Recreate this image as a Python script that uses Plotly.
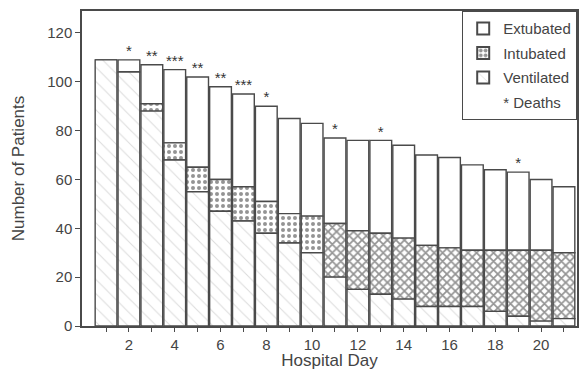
import plotly.graph_objects as go

days = list(range(1, 22))
ventilated = [109, 104, 88, 68, 55, 47, 43, 38, 34, 30, 20, 15, 13, 11, 8, 8, 8, 6, 4, 2, 3]
intubated_top = [109, 104, 91, 75, 65, 60, 57, 51, 46, 45, 42, 39, 38, 36, 33, 32, 31, 31, 31, 31, 30]
total = [109, 109, 107, 105, 102, 98, 95, 90, 85, 83, 77, 76, 76, 74, 70, 69, 66, 64, 63, 60, 57]
deaths = [0, 1, 2, 3, 2, 2, 3, 1, 0, 0, 1, 0, 1, 0, 0, 0, 0, 0, 1, 0, 0]
x_tick_labels = ["", "2", "", "4", "", "6", "", "8", "", "10", "", "12", "", "14", "", "16", "", "18", "", "20", ""]
y_ticks = [0, 20, 40, 60, 80, 100, 120]

intubated = [t - v for t, v in zip(intubated_top, ventilated)]
extubated = [t - i for t, i in zip(total, intubated_top)]
death_text = ["*" * n for n in deaths]

FONT = "Liberation Sans, Arial, sans-serif"
EDGE = "#4a4a4a"

intub_shapes = ["x" if d > 10 else "." for d in days]
intub_solid = [0.5 if d > 10 else 0.35 for d in days]

fig = go.Figure()
fig.add_trace(go.Bar(
    x=days, y=extubated, base=intubated_top, name="Extubated", legendgroup="a",
    marker=dict(color="white", line=dict(color=EDGE, width=1.4)),
))
fig.add_trace(go.Bar(
    x=days, y=intubated, base=ventilated, name="Intubated", legendgroup="b",
    marker=dict(color="white", line=dict(color=EDGE, width=1.4),
                pattern=dict(shape=intub_shapes, fgcolor="#2a2a2a", bgcolor="white",
                             size=6, solidity=intub_solid)),
))
fig.add_trace(go.Bar(
    x=days, y=ventilated, name="Ventilated", legendgroup="c",
    marker=dict(color="white", line=dict(color=EDGE, width=1.4),
                pattern=dict(shape="\\", fgcolor="#b8b8b8", bgcolor="white",
                             size=10, solidity=0.1)),
))
fig.add_trace(go.Scatter(
    x=days, y=total, mode="text", text=death_text, textposition="top center",
    textfont=dict(family=FONT, size=15, color="#333333"), showlegend=False,
    hoverinfo="skip", cliponaxis=False,
))
fig.add_trace(go.Scatter(
    x=[None], y=[None], mode="markers", name="* Deaths", legendgroup="d",
    marker=dict(color="rgba(0,0,0,0)", size=1, line=dict(width=0)),
))

fig.update_layout(
    width=582, height=370,
    margin=dict(l=82, r=5, t=11, b=44),
    barmode="overlay", bargap=0.05,
    plot_bgcolor="white", paper_bgcolor="white",
    font=dict(family=FONT, size=15, color="#444444"),
    showlegend=True,
    legend=dict(x=1, y=1, xanchor="right", yanchor="top",
                traceorder="grouped",
                bordercolor=EDGE, borderwidth=1.2, bgcolor="white",
                font=dict(size=15, color="#444444"),
                tracegroupgap=2, itemsizing="constant"),
    xaxis=dict(
        range=[-0.05, 21.57], tickmode="array", tickvals=days, ticktext=x_tick_labels,
        ticks="outside", ticklen=4, tickcolor=EDGE, tickwidth=1.2,
        showline=True, linecolor=EDGE, linewidth=1.5, mirror=True,
        showgrid=False, zeroline=False, automargin=False,
        title=dict(text="Hospital Day", font=dict(size=17), standoff=5),
        tickfont=dict(size=15),
    ),
    yaxis=dict(
        range=[0, 129], tickmode="array", tickvals=y_ticks,
        ticks="outside", ticklen=5, tickcolor=EDGE, tickwidth=1.2,
        showline=True, linecolor=EDGE, linewidth=1.5, mirror=True,
        showgrid=False, zeroline=False, automargin=False,
        title=dict(text="Number of Patients", font=dict(size=17), standoff=18),
        tickfont=dict(size=15),
    ),
)

fig.write_html("out.html", config={"displayModeBar": False},
               post_script="document.body.style.margin='0';")
